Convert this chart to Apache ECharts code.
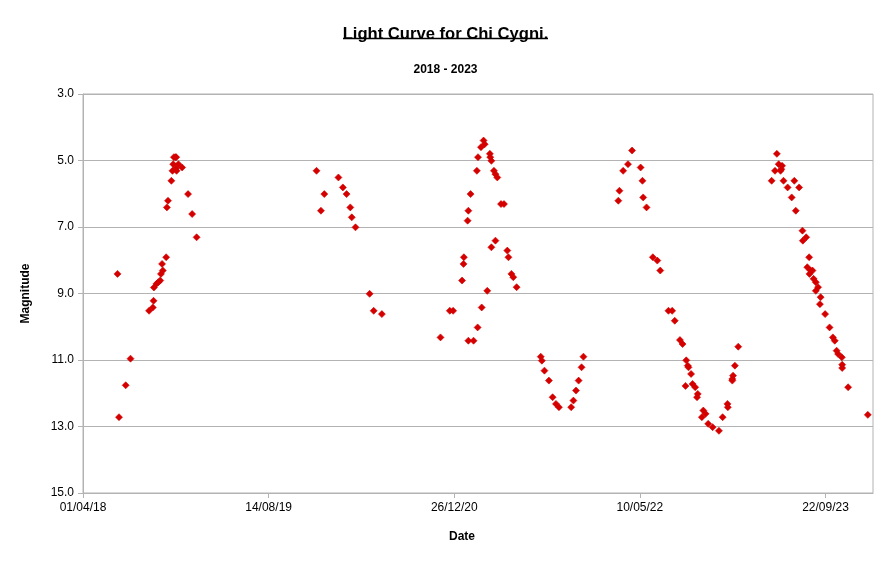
<!DOCTYPE html>
<html>
<head>
<meta charset="utf-8">
<script src="https://cdn.jsdelivr.net/npm/echarts@6/dist/echarts.min.js"></script>
<style>html,body{margin:0;padding:0;background:#fff;}#c{width:891px;height:561px;}</style>
</head>
<body>
<div id="c"></div>
<script>
// Days counted from 01/04/2018
const START = Date.UTC(2018, 3, 1);
const days = [
  93, 97, 115, 128, 178, 188, 190, 191, 198, 203, 208, 210, 213, 215, 224, 226, 229, 238, 241, 243, 245, 249, 251, 250, 252, 257, 267, 283, 294, 306,
  629, 641, 650, 688, 700, 710, 720, 724, 734, 772, 783, 805,
  963, 988, 997, 1021, 1025, 1026, 1036, 1038, 1038, 1044, 1052, 1061, 1063, 1064, 1072, 1074, 1079, 1082, 1089, 1096, 1097, 1100, 1100, 1107, 1111, 1111, 1116, 1126, 1134, 1143, 1146, 1154, 1159, 1168,
  1233, 1236, 1243, 1255, 1265, 1274, 1282, 1315, 1321, 1328, 1335, 1343, 1348,
  1442, 1445, 1455, 1468, 1479, 1502, 1507, 1509, 1518, 1535, 1547, 1555, 1577, 1587, 1594, 1608, 1615, 1623, 1625, 1629, 1631, 1638, 1642, 1649, 1654, 1656, 1667, 1671, 1677, 1684, 1696, 1713, 1723, 1736, 1737, 1749, 1749, 1751, 1756, 1765,
  1855, 1864, 1869, 1874, 1879, 1881, 1883, 1887, 1898, 1909, 1916, 1920, 1929, 1938, 1939, 1948, 1951, 1956, 1957, 1960, 1965, 1968, 1974, 1974, 1980, 1985, 1987, 1999, 2011, 2020, 2025, 2030, 2034, 2044, 2045, 2045, 2061, 2114
];
const magnitudes = [
  8.41, 12.72, 11.76, 10.96, 9.52, 9.42, 9.22, 8.82, 8.71, 8.66, 8.61, 8.41, 8.11, 8.31, 7.91, 6.41, 6.21, 5.61, 5.31, 5.11, 4.90, 4.90, 4.90, 5.24, 5.31, 5.11, 5.21, 6.01, 6.61, 7.31,
  5.31, 6.51, 6.01, 5.51, 5.81, 6.01, 6.41, 6.71, 7.01, 9.01, 9.52, 9.62,
  10.32, 9.52, 9.52, 8.61, 8.11, 7.91, 6.81, 6.51, 10.42, 6.01, 10.42, 5.31, 10.02, 4.90, 4.60, 9.42, 4.40, 4.51, 8.92, 4.80, 4.90, 5.01, 7.61, 5.31, 5.41, 7.41, 5.51, 6.31, 6.31, 7.71, 7.91, 8.41, 8.51, 8.81,
  10.90, 11.02, 11.32, 11.62, 12.12, 12.32, 12.42, 12.42, 12.22, 11.92, 11.62, 11.22, 10.90,
  6.21, 5.91, 5.31, 5.11, 4.70, 5.21, 5.61, 6.11, 6.41, 7.91, 8.01, 8.31, 9.52, 9.52, 9.82, 10.40, 10.52, 11.78, 11.01, 11.17, 11.22, 11.42, 11.72, 11.82, 12.12, 12.02, 12.72, 12.52, 12.62, 12.92, 13.02, 13.13, 12.72, 12.32, 12.42, 11.57, 11.62, 11.47, 11.17, 10.60,
  5.61, 5.31, 4.80, 5.11, 5.31, 5.26, 5.16, 5.61, 5.81, 6.11, 5.61, 6.51, 5.81, 7.11, 7.41, 7.31, 8.21, 7.91, 8.41, 8.31, 8.31, 8.56, 8.66, 8.92, 8.81, 9.32, 9.11, 9.62, 10.02, 10.32, 10.42, 10.72, 10.82, 10.92, 11.14, 11.24, 11.82, 12.65
];
const titleText = 'Light Curve for Chi Cygni.';
const subtitleText = '2018 - 2023';

function fmtDate(v) {
  const d = new Date(START + v * 86400000);
  const dd = String(d.getUTCDate()).padStart(2, '0');
  const mm = String(d.getUTCMonth() + 1).padStart(2, '0');
  const yy = String(d.getUTCFullYear() % 100).padStart(2, '0');
  return dd + '/' + mm + '/' + yy;
}

const chart = echarts.init(document.getElementById('c'));
const FONT = '"Liberation Sans", Arial, sans-serif';
const GRAY = '#b3b3b3';
chart.setOption({
  animation: false,
  backgroundColor: '#fff',
  title: [
    { text: titleText, left: 'center', top: 21, textStyle: { fontFamily: FONT, fontSize: 16.6, fontWeight: 'bold', color: '#000' } },
    { text: subtitleText, left: 'center', top: 59, textStyle: { fontFamily: FONT, fontSize: 12, fontWeight: 'bold', color: '#000' } }
  ],
  graphic: [
    { type: 'line', shape: { x1: 343, y1: 38.5, x2: 548, y2: 38.5 }, style: { stroke: '#000', lineWidth: 1.3 } },
    { type: 'rect', shape: { x: 83, y: 94, width: 790, height: 399 }, style: { fill: 'none', stroke: GRAY, lineWidth: 1 }, silent: true, z: 0 }
  ],
  grid: { left: 83, right: 18, top: 94, bottom: 68, containLabel: false },
  xAxis: {
    type: 'value', min: 0, max: 2128, interval: 500,
    name: 'Date', nameLocation: 'middle', nameGap: 38,
    nameTextStyle: { fontFamily: FONT, fontSize: 12, fontWeight: 'bold', color: '#000', padding: [0, 32, 0, 0] },
    axisLine: { show: true, lineStyle: { color: GRAY } },
    axisTick: { show: true, length: 5, lineStyle: { color: GRAY } },
    axisLabel: { fontFamily: FONT, fontSize: 12, color: '#000', margin: 9, showMaxLabel: false, formatter: fmtDate },
    splitLine: { show: false }
  },
  yAxis: {
    type: 'value', inverse: true, min: 3, max: 15, interval: 2,
    name: 'Magnitude', nameLocation: 'middle', nameGap: 51, nameRotate: 90,
    nameTextStyle: { fontFamily: FONT, fontSize: 12, fontWeight: 'bold', color: '#000' },
    axisLine: { show: true, lineStyle: { color: GRAY } },
    axisTick: { show: true, length: 5, lineStyle: { color: GRAY } },
    axisLabel: { fontFamily: FONT, fontSize: 12, color: '#000', margin: 9, formatter: v => v.toFixed(1) },
    splitLine: { show: true, lineStyle: { color: GRAY, width: 1 } }
  },
  series: [{
    type: 'scatter',
    symbol: 'diamond',
    symbolSize: 7,
    itemStyle: { color: '#d40000', borderColor: '#d40000', borderWidth: 0.6, opacity: 1 },
    data: days.map((d, i) => [d, magnitudes[i]])
  }]
});
</script>
</body>
</html>
